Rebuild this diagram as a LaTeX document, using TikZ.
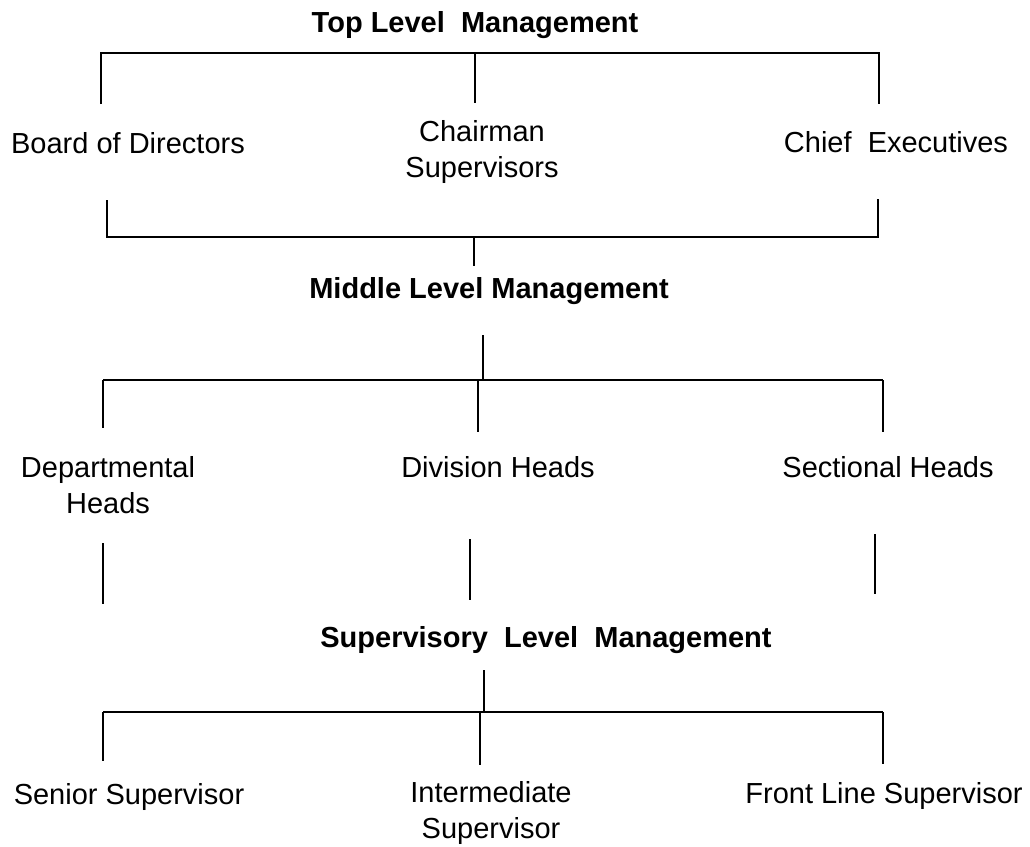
\documentclass[tikz,border=0pt]{standalone}
\usepackage{fontspec}
\setmainfont{Liberation Sans}
\usetikzlibrary{positioning}

\tikzset{
  lbl/.style={font=\fontsize{21.75}{27}\selectfont, align=center, inner sep=0pt, anchor=base},
  head/.style={lbl, font=\fontsize{21.75}{27}\selectfont\bfseries},
  link/.style={line width=1.6pt}
}

\begin{document}
\begin{tikzpicture}[x=0.75pt,y=-0.75pt,line cap=butt,line join=miter]
  \useasboundingbox (0,0) rectangle (1030,846);

  %--- Top level --------------------------------------------------------
  \node[head] (top) at (475,32) {Top Level\ \ Management};

  \coordinate (T1) at (101,53);
  \coordinate (T2) at (475,53);
  \coordinate (T3) at (879,53);
  \draw[link] (101,104) -- (T1) -- (T3) -- (879,104);
  \draw[link] (T2) -- (475,103);

  % base anchor of a two-line label sits on its last line
  \node[lbl] (board) at (128,153) {Board of Directors};
  \node[lbl] (chair) at (482,177) {Chairman\\Supervisors};
  \node[lbl] (chief) at (896,152) {Chief\ \ Executives};

  % bracket joining the top level down to the middle level
  \coordinate (B1) at (107,237);
  \coordinate (B2) at (474,237);
  \coordinate (B3) at (878,237);
  \draw[link] (107,200) -- (B1) -- (B3) -- (878,199);
  \draw[link] (B2) -- (474,266);

  %--- Middle level -----------------------------------------------------
  \node[head] (middle) at (489,298) {Middle Level Management};

  \coordinate (M1) at (103,380);
  \coordinate (M2) at (478,380);
  \coordinate (M3) at (883,380);
  \draw[link] (483,335) -- (483,380);
  \draw[link] (M1) -- (M3);
  \draw[link] (M1) -- ++(0,48);
  \draw[link] (M2) -- ++(0,52);
  \draw[link] (M3) -- ++(0,52);

  \node[lbl] (dept) at (108,513) {Departmental\\Heads};
  \node[lbl] (div) at (498,477) {Division Heads};
  \node[lbl] (sect) at (888,477) {Sectional Heads};

  % loose drops below the middle level
  \draw[link] (103,543) -- (103,604);
  \draw[link] (470,539) -- (470,600);
  \draw[link] (875,534) -- (875,594);

  %--- Supervisory level ------------------------------------------------
  \node[head] (super) at (546,647) {Supervisory\ \ Level\ \ Management};

  \coordinate (S1) at (103,712);
  \coordinate (S2) at (480,712);
  \coordinate (S3) at (883,712);
  \draw[link] (484,670) -- (484,712);
  \draw[link] (S1) -- (S3);
  \draw[link] (S1) -- ++(0,49);
  \draw[link] (S2) -- ++(0,53);
  \draw[link] (S3) -- ++(0,52);

  \node[lbl] (senior) at (129,804) {Senior Supervisor};
  \node[lbl] (inter) at (491,838) {Intermediate\\Supervisor};
  \node[lbl] (front) at (884,803) {Front Line Supervisor};
\end{tikzpicture}
\end{document}
